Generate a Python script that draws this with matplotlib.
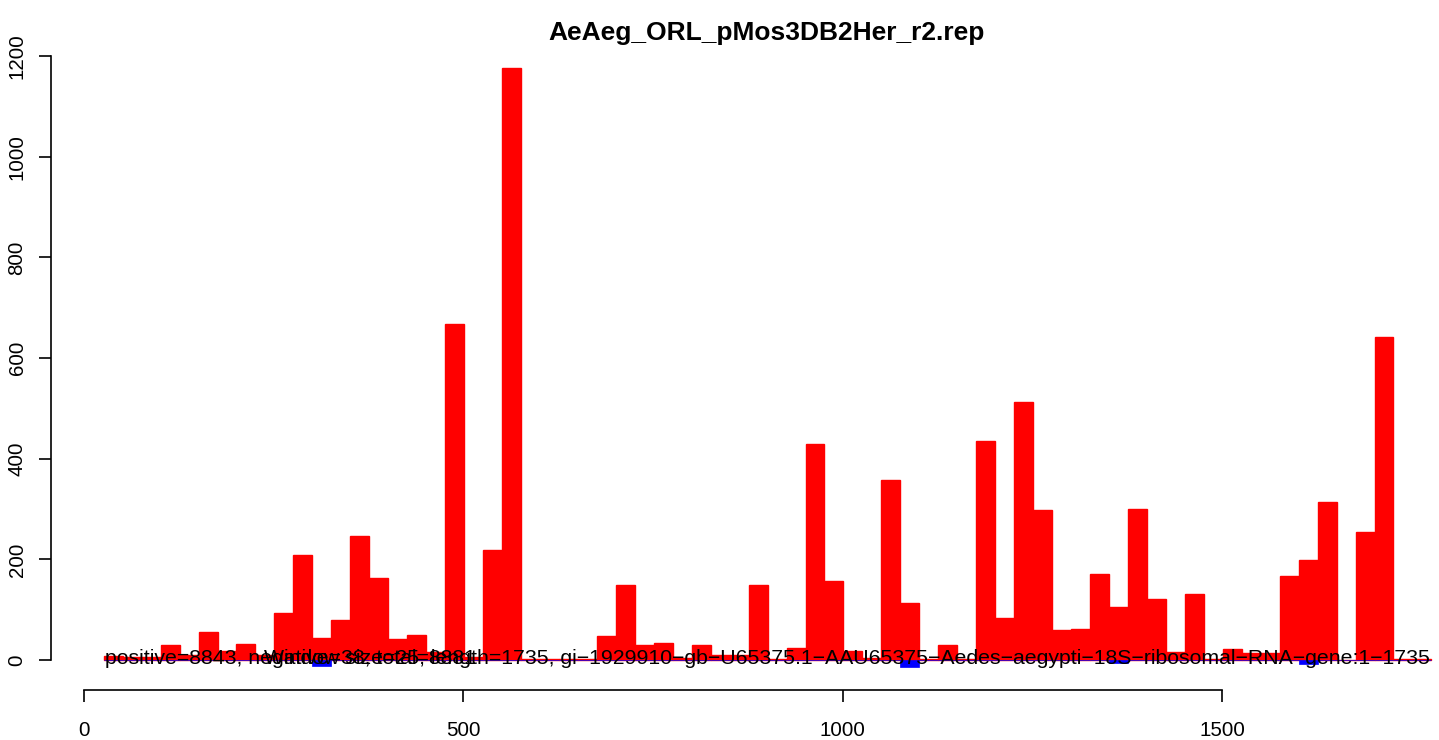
import numpy as np
import matplotlib.pyplot as plt

plt.rcParams['font.family'] = ['Liberation Sans', 'DejaVu Sans']

title = "AeAeg_ORL_pMos3DB2Her_r2.rep"
window = 25
first_start = 26

# read counts per 25-nt window (windows starting at 26, 51, ..., 1751)
positive = [8, 5, 5, 30, 10, 56, 18, 32, 10, 94,
            208, 44, 80, 246, 162, 42, 50, 16, 668, 6,
            219, 1176, 2, 2, 2, 2, 48, 149, 30, 34,
            4, 30, 10, 10, 149, 2, 24, 429, 157, 18,
            3, 358, 113, 1, 30, 2, 435, 84, 513, 298,
            60, 62, 171, 105, 300, 121, 16, 131, 2, 22,
            13, 13, 167, 199, 314, 0, 254, 642, 2, 2]
negative = [0, 0, 0, 0, 0, 0, 0, 0, 0, 0,
            0, 11, 0, 0, 0, 0, 0, 0, 0, 0,
            0, 0, 0, 0, 0, 0, 0, 0, 0, 0,
            0, 0, 0, 0, 0, 0, 0, 0, 0, 0,
            0, 0, 13, 0, 0, 0, 0, 0, 0, 0,
            0, 0, 0, 6, 0, 0, 0, 0, 0, 0,
            0, 0, 0, 8, 0, 0, 0, 0, 0, 0]

xticks = [0, 500, 1000, 1500]
yticks = [0, 200, 400, 600, 800, 1000, 1200]

stats_label = "positive=8843, negative=38, total=8881"
info_label = ("Window size=25, length=1735, gi-1929910-gb-U65375.1-AAU65375-"
              "Aedes-aegypti-18S-ribosomal-RNA-gene:1-1735")

starts = first_start + window * np.arange(len(positive))

W, H = 1439, 740
fig = plt.figure(figsize=(W / 100, H / 100), dpi=100)
ax = fig.add_axes([51 / W, 50 / H, 1432 / W, (690 - 43.6) / H])

ax.bar(starts, positive, width=window, align='edge',
       color='#FF0000', edgecolor='#FF0000', linewidth=1)
ax.bar(starts, -np.array(negative), width=window, align='edge',
       color='#0000FF', edgecolor='#0000FF', linewidth=0.5)

ax.set_xlim(-43.5, 1844)
ax.set_ylim(-59.6, 1224.7)

for s in ['top', 'right']:
    ax.spines[s].set_visible(False)
ax.spines['left'].set_bounds(0, 1200)
ax.spines['bottom'].set_bounds(0, 1500)
for s in ['left', 'bottom']:
    ax.spines[s].set_linewidth(1.2)

ax.set_xticks(xticks)
ax.set_xticklabels([str(t) for t in xticks])
ax.set_yticks(yticks)
ax.set_yticklabels([str(t) for t in yticks], rotation=90, va='center')
ax.tick_params(axis='both', direction='out', length=8.6, width=1.2,
               labelsize=14.8)
ax.tick_params(axis='x', pad=13.5)
ax.tick_params(axis='y', pad=9)

ax.text(27.7, -7, stats_label, ha='left', va='baseline', fontsize=15.3)
ax.text(1005, -7, info_label.replace('-', '\u2212'), ha='center',
        va='baseline', fontsize=15.3)

fig.text(767 / W, 1 - 40 / H, title, ha='center', va='baseline',
         fontsize=19, fontweight='bold')

fig.savefig('out.png', dpi=100)
